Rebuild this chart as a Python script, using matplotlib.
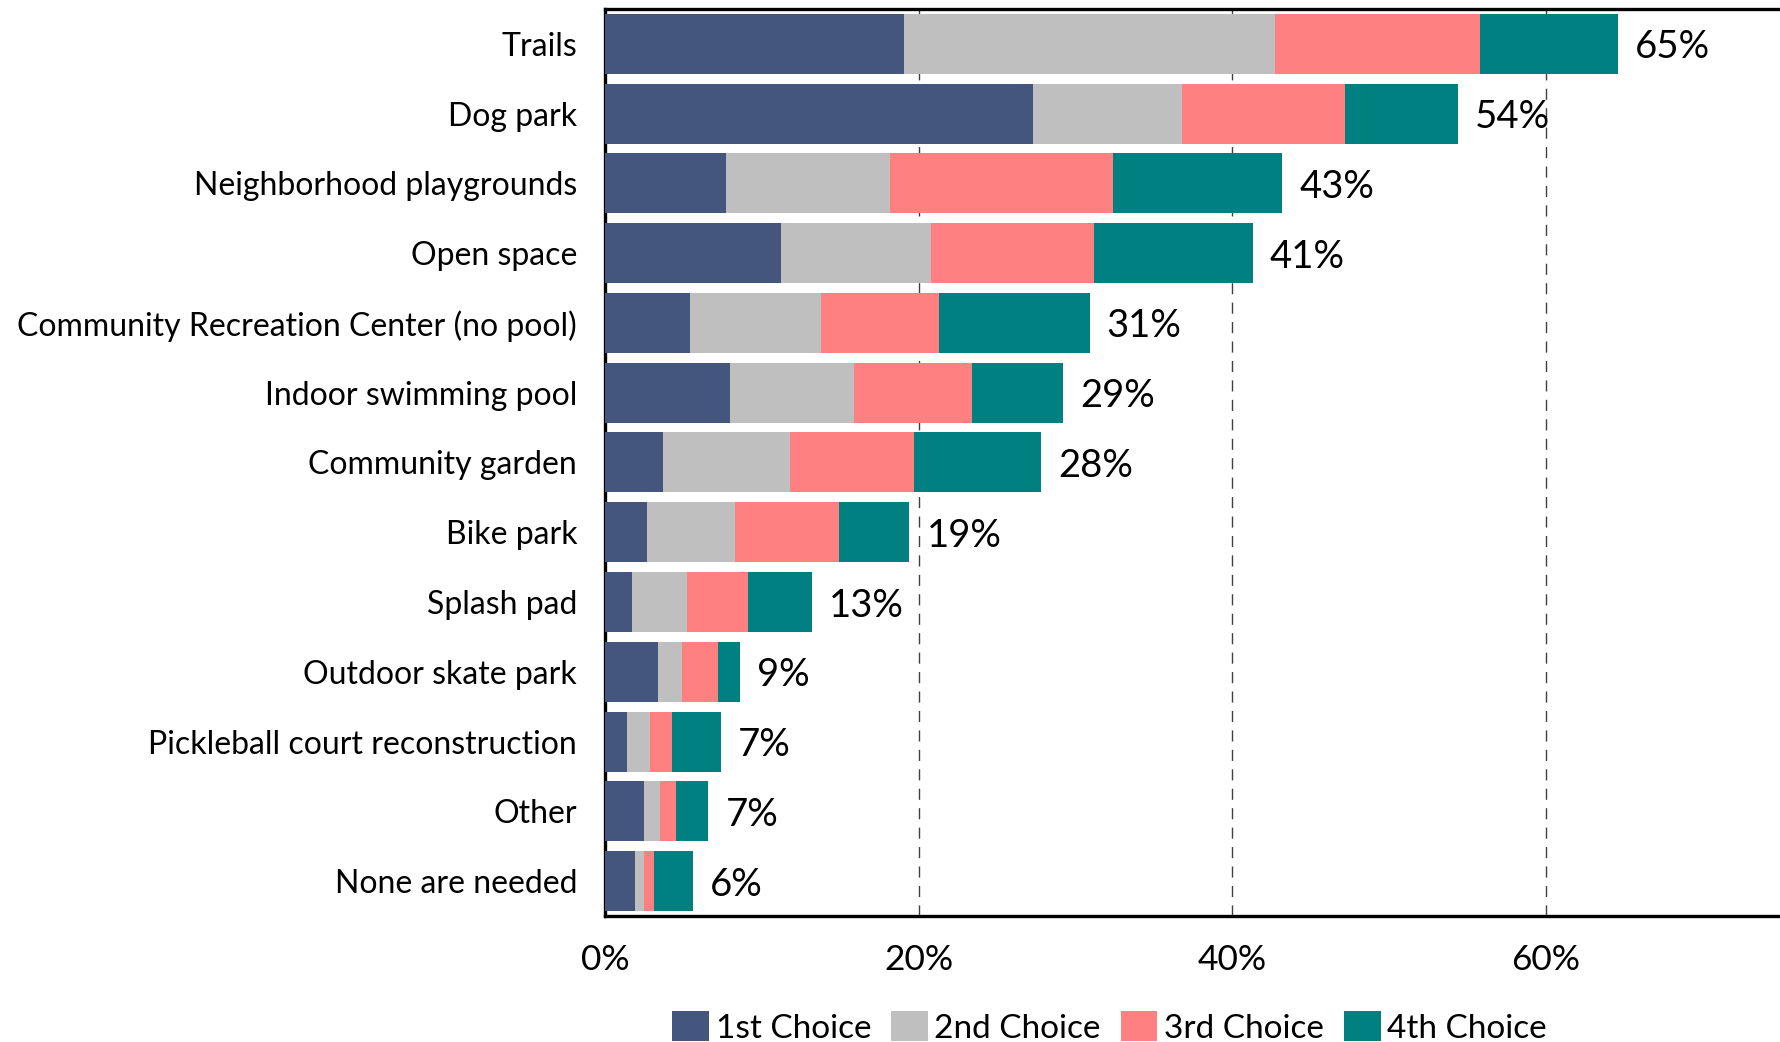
import matplotlib
matplotlib.use("Agg")
import matplotlib.pyplot as plt
import numpy as np

categories = ["Trails", "Dog park", "Neighborhood playgrounds", "Open space",
              "Community Recreation Center (no pool)", "Indoor swimming pool",
              "Community garden", "Bike park", "Splash pad", "Outdoor skate park",
              "Pickleball court reconstruction", "Other", "None are needed"]

# share of respondents (%) by ranking
first = [19.1, 27.3, 7.7, 11.2, 5.4, 8.0, 3.7, 2.7, 1.7, 3.4, 1.4, 2.5, 1.9]
second = [23.6, 9.5, 10.5, 9.6, 8.4, 7.9, 8.1, 5.6, 3.5, 1.5, 1.5, 1.0, 0.6]
third = [13.1, 10.4, 14.2, 10.4, 7.5, 7.5, 7.9, 6.6, 3.9, 2.3, 1.4, 1.0, 0.6]
fourth = [8.8, 7.2, 10.8, 10.1, 9.6, 5.8, 8.1, 4.5, 4.1, 1.4, 3.1, 2.1, 2.5]

series_names = ["1st Choice", "2nd Choice", "3rd Choice", "4th Choice"]
colors = ["#45567E", "#BFBFBF", "#FF8080", "#008080"]
xticks = [0, 20, 40, 60]

plt.rcParams['font.family'] = ['Lato', 'DejaVu Sans']

fig = plt.figure(figsize=(17.81, 10.42), dpi=100)
ax = fig.add_axes([0.3397, 0.1209, 0.6603, 0.8705])

y = np.arange(len(categories))
left = np.zeros(len(categories))
for vals, name, c in zip([first, second, third, fourth], series_names, colors):
    ax.barh(y, vals, left=left, height=0.86, color=c, label=name, zorder=3)
    left += np.array(vals)

for yi, total in zip(y, left):
    ax.text(total + 1.1, yi + 0.05, f"{total:.0f}%", va="center", ha="left",
            fontsize=27.5, zorder=4)

ax.set_ylim(len(categories) - 0.5, -0.5)
ax.set_xlim(0, 75)
ax.set_yticks(y)
ax.set_yticklabels(categories, fontsize=23)
ax.set_xticks(xticks)
ax.set_xticklabels([f"{t}%" for t in xticks], fontsize=25.5)
ax.tick_params(axis="y", length=0, pad=20)
ax.tick_params(axis="x", length=0, pad=20)

for t in [20, 40, 60]:
    ax.axvline(t, color="#404040", lw=1.0, ls=(0, (8, 6)), zorder=1)

for s in ["top", "left", "bottom"]:
    ax.spines[s].set_linewidth(2.4)
    ax.spines[s].set_color("black")
ax.spines["right"].set_visible(False)

fig.legend(loc="center", bbox_to_anchor=(0.623, 0.014), ncol=4, frameon=False,
           fontsize=24, handlelength=1.1, handleheight=1.0, handletextpad=0.2,
           columnspacing=0.6)

fig.savefig("out.png", dpi=100)
